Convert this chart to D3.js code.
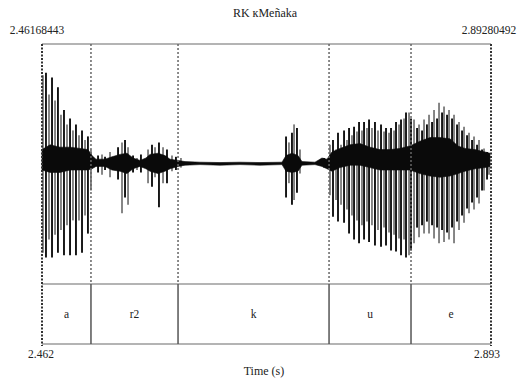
<!DOCTYPE html>
<html>
<head>
<meta charset="utf-8">
<script src="https://cdn.jsdelivr.net/npm/d3@7"></script>
<style>
  html, body { margin: 0; padding: 0; background: #fff; }
  svg { display: block; }
  text { font-family: "Liberation Serif", "Times New Roman", serif; fill: #222; }
</style>
</head>
<body>
<svg id="chart" width="527" height="379"></svg>
<script>
// Time domain of the selection (s)
const timeStart = 2.46168443;
const timeEnd = 2.89280492;
const title = "RK кMeñaka";
const topLabels = ["2.46168443", "2.89280492"];
const bottomLabels = ["2.462", "2.893"];
const axisTitle = "Time (s)";

// Interval tier: labels and boundaries (s)
const tierLabels = ["a", "r2", "k", "u", "e"];
const tierBoundaries = [2.5087, 2.5923, 2.7373, 2.8160];

// Glottal pulses / bursts: time (s), positive and negative peak amplitude
const pulseTimes = [
  2.4626, 2.4655, 2.4684, 2.4713, 2.4742, 2.4770, 2.4799, 2.4828, 2.4857, 2.4886,
  2.4914, 2.4943, 2.4972, 2.5001, 2.5030, 2.5058, 2.5087,
  2.5155, 2.5193, 2.5222, 2.5270, 2.5347, 2.5385, 2.5414, 2.5443, 2.5491, 2.5529,
  2.5567, 2.5635, 2.5673, 2.5702, 2.5740, 2.5779, 2.5817, 2.5865, 2.5903, 2.5951,
  2.6960, 2.6988, 2.7017, 2.7037, 2.7065, 2.7094, 2.7325,
  2.7382, 2.7411, 2.7440, 2.7459, 2.7488, 2.7517, 2.7545, 2.7565, 2.7593, 2.7613,
  2.7641, 2.7661, 2.7689, 2.7709, 2.7737, 2.7757, 2.7785, 2.7814, 2.7843, 2.7872,
  2.7901, 2.7920, 2.7949, 2.7968, 2.7997, 2.8016, 2.8045, 2.8064, 2.8093, 2.8112,
  2.8141,
  2.8160, 2.8189, 2.8218, 2.8237, 2.8266, 2.8285, 2.8313, 2.8333, 2.8362, 2.8381,
  2.8410, 2.8429, 2.8458, 2.8477, 2.8506, 2.8525, 2.8554, 2.8573, 2.8602, 2.8621,
  2.8650, 2.8669, 2.8698, 2.8717, 2.8746, 2.8765, 2.8794, 2.8813, 2.8842, 2.8861,
  2.8890, 2.8909
];
const pulseMax = [
  0.74, 0.76, 0.58, 0.72, 0.53, 0.64, 0.41, 0.45, 0.33, 0.38,
  0.28, 0.33, 0.24, 0.28, 0.20, 0.23, 0.12,
  0.07, 0.08, 0.06, 0.10, 0.14, 0.18, 0.20, 0.14, 0.07, 0.05,
  0.08, 0.12, 0.16, 0.14, 0.18, 0.14, 0.12, 0.07, 0.06, 0.05,
  0.23, 0.18, 0.26, 0.33, 0.30, 0.12, 0.05,
  0.16, 0.20, 0.12, 0.26, 0.16, 0.28, 0.20, 0.30, 0.24, 0.31,
  0.27, 0.35, 0.28, 0.35, 0.30, 0.37, 0.30, 0.35, 0.28, 0.33,
  0.27, 0.30, 0.26, 0.30, 0.28, 0.35, 0.33, 0.37, 0.38, 0.43,
  0.43,
  0.38, 0.37, 0.30, 0.33, 0.28, 0.37, 0.33, 0.41, 0.35, 0.45,
  0.38, 0.51, 0.43, 0.48, 0.41, 0.45, 0.38, 0.41, 0.33, 0.35,
  0.28, 0.31, 0.24, 0.26, 0.20, 0.23, 0.16, 0.20, 0.12, 0.13,
  0.10, 0.08
];
const pulseMin = [
  -0.74, -0.78, -0.63, -0.78, -0.59, -0.74, -0.55, -0.76, -0.51, -0.76,
  -0.47, -0.76, -0.47, -0.74, -0.43, -0.58, -0.22,
  -0.07, -0.09, -0.05, -0.11, -0.13, -0.41, -0.28, -0.34, -0.07, -0.05,
  -0.07, -0.16, -0.19, -0.11, -0.36, -0.16, -0.16, -0.06, -0.05, -0.03,
  -0.28, -0.16, -0.34, -0.30, -0.24, -0.08, -0.03,
  -0.26, -0.44, -0.30, -0.48, -0.34, -0.49, -0.38, -0.58, -0.43, -0.63,
  -0.47, -0.66, -0.51, -0.63, -0.48, -0.65, -0.51, -0.68, -0.55, -0.69,
  -0.53, -0.68, -0.57, -0.72, -0.59, -0.73, -0.62, -0.76, -0.63, -0.78,
  -0.76,
  -0.72, -0.66, -0.53, -0.61, -0.51, -0.58, -0.48, -0.58, -0.51, -0.62,
  -0.53, -0.66, -0.55, -0.65, -0.57, -0.63, -0.53, -0.66, -0.48, -0.55,
  -0.43, -0.49, -0.37, -0.41, -0.32, -0.38, -0.28, -0.33, -0.22, -0.22,
  -0.13, -0.09
];

// Dense core of the signal: envelope time (s), upper and lower amplitude
const coreTimes = [
  2.4617, 2.4694, 2.4790, 2.4886, 2.4982, 2.5058, 2.5097, 2.5135, 2.5222, 2.5289,
  2.5366, 2.5433, 2.5491, 2.5558, 2.5615, 2.5654, 2.5731, 2.5798, 2.5846, 2.5923,
  2.5990, 2.6134, 2.6326, 2.6518, 2.6710, 2.6921, 2.6960, 2.7017, 2.7075, 2.7113,
  2.7238, 2.7305, 2.7353, 2.7401, 2.7478, 2.7574, 2.7670, 2.7766, 2.7862, 2.7958,
  2.8054, 2.8150, 2.8246, 2.8342, 2.8438, 2.8534, 2.8611, 2.8678, 2.8774, 2.8870,
  2.8918
];
const coreMax = [
  0.12, 0.16, 0.14, 0.14, 0.13, 0.12, 0.07, 0.04, 0.04, 0.06,
  0.08, 0.09, 0.05, 0.03, 0.05, 0.08, 0.09, 0.07, 0.04, 0.03,
  0.02, 0.015, 0.012, 0.015, 0.012, 0.015, 0.07, 0.09, 0.07, 0.02,
  0.015, 0.05, 0.04, 0.10, 0.13, 0.16, 0.17, 0.14, 0.12, 0.12,
  0.13, 0.15, 0.19, 0.22, 0.22, 0.21, 0.15, 0.13, 0.12, 0.10,
  0.09
];
const coreMin = [
  -0.05, -0.07, -0.07, -0.05, -0.05, -0.05, -0.04, -0.02, -0.02, -0.05,
  -0.06, -0.08, -0.04, -0.02, -0.04, -0.06, -0.08, -0.06, -0.04, -0.02,
  -0.01, -0.005, -0.01, -0.005, -0.01, -0.005, -0.06, -0.07, -0.06, -0.01,
  -0.005, -0.02, -0.04, -0.06, -0.03, -0.01, -0.01, -0.03, -0.05, -0.05,
  -0.05, -0.05, -0.08, -0.10, -0.11, -0.10, -0.08, -0.06, -0.04, -0.03,
  -0.02
];

const svg = d3.select("#chart");

const left = 42, right = 491;
const waveTop = 44, waveBottom = 284, tierBottom = 344, frameBottom = 346;

const x = d3.scaleLinear().domain([timeStart, timeEnd]).range([left, right]);
const y = d3.scaleLinear().domain([-1, 1]).range([waveBottom, waveTop]);

// Pulses
const pulses = pulseTimes.map((t, i) => ({ t, hi: pulseMax[i], lo: pulseMin[i], i }));
svg.append("g").selectAll("line").data(pulses).join("line")
  .attr("x1", d => x(d.t)).attr("x2", d => x(d.t))
  .attr("y1", d => y(d.hi)).attr("y2", d => y(d.lo))
  .attr("stroke", d => d.i % 2 ? "#111" : "#808080")
  .attr("stroke-width", 1.9);

// Dense core
const core = coreTimes.map((t, i) => ({ t, hi: coreMax[i], lo: coreMin[i] }));
svg.append("path").datum(core)
  .attr("d", d3.area().x(d => x(d.t)).y0(d => y(d.lo)).y1(d => y(d.hi)))
  .attr("fill", "#0a0a0a")
  .attr("stroke", "#0a0a0a")
  .attr("stroke-width", 0.6);

// Frame lines
const hLines = [waveTop, waveBottom, tierBottom];
svg.append("g").selectAll("line").data(hLines).join("line")
  .attr("x1", left).attr("x2", right)
  .attr("y1", d => d).attr("y2", d => d)
  .attr("stroke", "#b4b4b4").attr("stroke-width", 2);

// Boundaries: dotted over the waveform, solid in the tier
const bounds = svg.append("g");
bounds.selectAll("line.dot").data(tierBoundaries).join("line")
  .attr("class", "dot")
  .attr("x1", d => x(d)).attr("x2", d => x(d))
  .attr("y1", waveTop).attr("y2", waveBottom)
  .attr("stroke", "#666").attr("stroke-width", 1.5)
  .attr("stroke-dasharray", "2,2");
bounds.selectAll("line.solid").data(tierBoundaries).join("line")
  .attr("class", "solid")
  .attr("x1", d => x(d)).attr("x2", d => x(d))
  .attr("y1", waveBottom).attr("y2", tierBottom)
  .attr("stroke", "#555").attr("stroke-width", 1.5);

// Outer edges
svg.append("g").selectAll("line").data([timeStart, timeEnd]).join("line")
  .attr("x1", d => x(d)).attr("x2", d => x(d))
  .attr("y1", waveTop).attr("y2", frameBottom)
  .attr("stroke", "#333").attr("stroke-width", 2)
  .attr("stroke-dasharray", "2,1.5");

// Tier labels
const edges = [timeStart, ...tierBoundaries, timeEnd];
svg.append("g").selectAll("text").data(tierLabels).join("text")
  .attr("x", (d, i) => (x(edges[i]) + x(edges[i + 1])) / 2)
  .attr("y", 318)
  .attr("text-anchor", "middle")
  .attr("font-size", 11.5)
  .text(d => d);

// Title and time labels
svg.append("text").attr("x", 265).attr("y", 17).attr("text-anchor", "middle")
  .attr("font-size", 12).text(title);
svg.append("text").attr("x", x(timeStart) - 5).attr("y", 34).attr("text-anchor", "middle")
  .attr("font-size", 11.5).text(topLabels[0]);
svg.append("text").attr("x", x(timeEnd) - 2).attr("y", 34).attr("text-anchor", "middle")
  .attr("font-size", 11.5).text(topLabels[1]);
svg.append("text").attr("x", x(timeStart) - 1).attr("y", 358).attr("text-anchor", "middle")
  .attr("font-size", 11.5).text(bottomLabels[0]);
svg.append("text").attr("x", x(timeEnd) - 4).attr("y", 358).attr("text-anchor", "middle")
  .attr("font-size", 11.5).text(bottomLabels[1]);
svg.append("text").attr("x", 264).attr("y", 375).attr("text-anchor", "middle")
  .attr("font-size", 12).text(axisTitle);
</script>
</body>
</html>
